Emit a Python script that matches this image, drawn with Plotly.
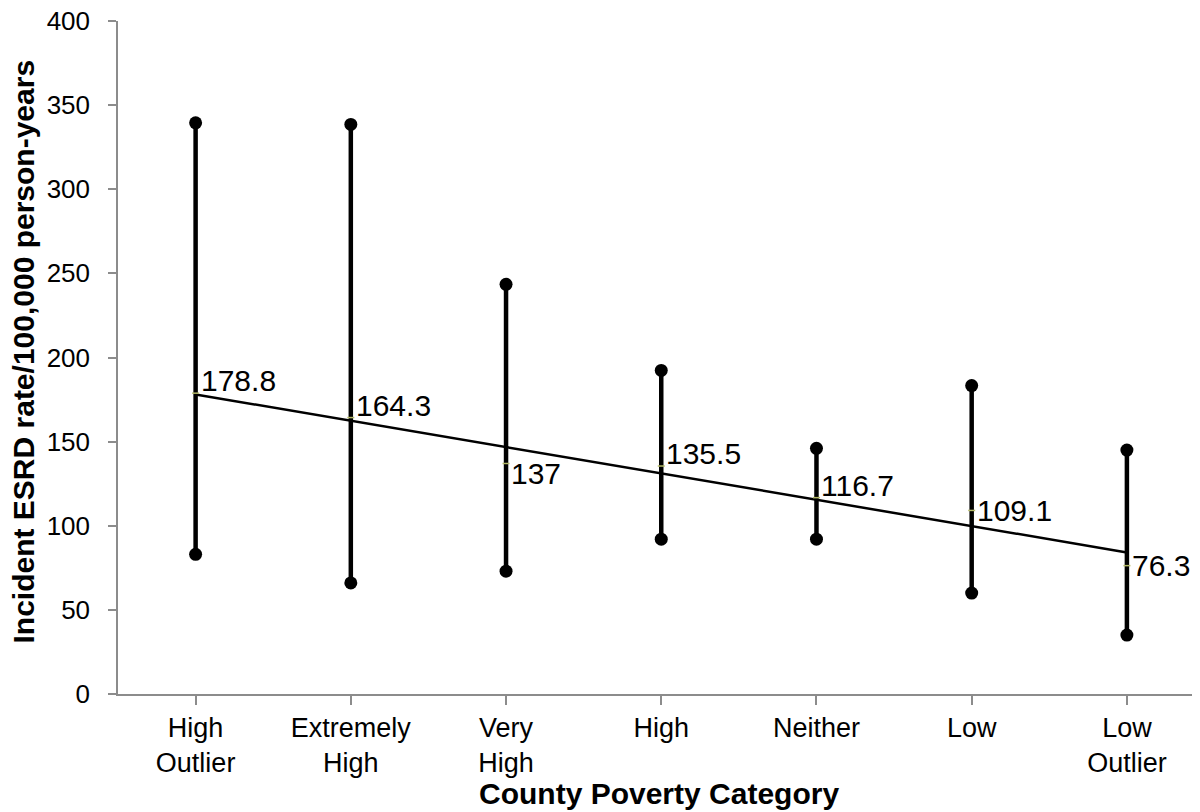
import numpy as np
import plotly.graph_objects as go

categories = ["High<br>Outlier", "Extremely<br>High", "Very<br>High", "High", "Neither", "Low", "Low<br>Outlier"]
median_rate = [178.8, 164.3, 137, 135.5, 116.7, 109.1, 76.3]
low_rate = [83, 66, 73, 92, 92, 60, 35]
high_rate = [339.5, 338.5, 243.5, 192.3, 146, 183.3, 145]
label_text = ["178.8", "164.3", "137", "135.5", "116.7", "109.1", "76.3"]
y_ticks = [0, 50, 100, 150, 200, 250, 300, 350, 400]

# label vertical placement (style)
label_anchor = ["bottom", "bottom", "top", "bottom", "bottom", "middle", "middle"]
anchor_shift = {"bottom": -6, "top": 9, "middle": 0}

idx = list(range(len(categories)))

# Range lines
rx, ry = [], []
for i, lo, hi in zip(idx, low_rate, high_rate):
    rx += [i, i, None]
    ry += [lo, hi, None]

# Linear trendline through medians (least squares)
slope, intercept = np.polyfit(idx, median_rate, 1)
tx = [idx[0], idx[-1]]
ty = [intercept + slope * x for x in tx]

FONT = "Liberation Sans, Arial, sans-serif"

fig = go.Figure()
fig.add_trace(go.Scatter(
    x=rx, y=ry, mode="lines+markers",
    line=dict(color="black", width=4.5),
    marker=dict(color="black", size=13),
    hoverinfo="skip", showlegend=False, cliponaxis=False,
))
fig.add_trace(go.Scatter(
    x=tx, y=ty, mode="lines",
    line=dict(color="black", width=2.5),
    hoverinfo="skip", showlegend=False,
))
fig.add_trace(go.Scatter(
    x=idx, y=median_rate, mode="markers",
    marker=dict(symbol="line-ew", size=5, line=dict(color="#b4b968", width=1.5)),
    showlegend=False,
))

for i, m, t, a in zip(idx, median_rate, label_text, label_anchor):
    fig.add_annotation(
        x=i, y=m, xref="x", yref="y", text=t, showarrow=False,
        xanchor="left", yanchor=a, xshift=3, yshift=anchor_shift[a],
        font=dict(family=FONT, size=30, color="black"),
    )

# axis titles
fig.add_annotation(
    x=0.5, y=0, xref="paper", yref="paper", text="<b>County Poverty Category</b>",
    showarrow=False, xanchor="center", yanchor="middle", yshift=-99,
    font=dict(family=FONT, size=30, color="black"),
)
fig.add_annotation(
    x=0, y=0.5, xref="paper", yref="paper", text="<b>Incident ESRD rate/100,000 person-years</b>",
    showarrow=False, xanchor="center", yanchor="middle", textangle=-90,
    xshift=-95, yshift=6,
    font=dict(family=FONT, size=30, color="black"),
)

axis_color = "#8c8c8c"
fig.update_layout(
    width=1192, height=804,
    margin=dict(l=110, r=0, t=13, b=118),
    paper_bgcolor="white", plot_bgcolor="white",
    font=dict(family=FONT, size=26, color="black"),
    xaxis=dict(
        tickmode="array", tickvals=idx, ticktext=categories,
        range=[-0.5, 6.5 - 4.5 / 155],
        showline=True, linecolor=axis_color, linewidth=1.5,
        ticks="outside", tickson="boundaries", ticklen=9, tickcolor=axis_color, tickwidth=1.5,
        showgrid=False, zeroline=False, automargin=False,
        tickfont=dict(size=27),
    ),
    yaxis=dict(
        range=[0, 400], tickvals=y_ticks,
        showline=True, linecolor=axis_color, linewidth=1.5,
        ticks="outside", ticklen=8, tickcolor=axis_color, tickwidth=1.5,
        ticklabelstandoff=13, ticklabeloverflow="allow",
        showgrid=False, zeroline=False, automargin=False,
        tickfont=dict(size=26),
    ),
)

fig.write_html("out.html")
